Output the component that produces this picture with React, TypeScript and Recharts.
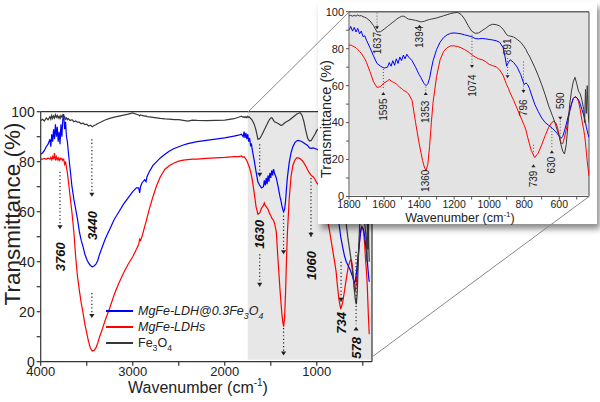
import React from 'react'
import { LineChart, Line, XAxis, YAxis, ReferenceArea, ReferenceLine, ReferenceDot, Legend } from 'recharts'

// FTIR spectra, transmittance (%) per wavenumber (cm-1)
const wavenumbers = [
  4000, 3980, 3960, 3940, 3920, 3900, 3890, 3880, 3870, 3860, 3850, 3840, 3830, 3820, 3810, 3800,
  3790, 3780, 3770, 3760, 3750, 3740, 3730, 3720, 3710, 3700, 3680, 3660, 3640, 3620, 3600, 3580,
  3560, 3540, 3520, 3500, 3480, 3460, 3440, 3420, 3400, 3380, 3360, 3340, 3300, 3250, 3200, 3150,
  3100, 3050, 3000, 2960, 2935, 2925, 2915, 2900, 2870, 2855, 2845, 2820, 2780, 2740, 2700, 2650,
  2600, 2550, 2500, 2450, 2400, 2350, 2300, 2200, 2100, 2000, 1900, 1850, 1820, 1800, 1790, 1780,
  1770, 1760, 1750, 1740, 1730, 1720, 1710, 1700, 1680, 1660, 1640, 1620, 1600, 1580, 1570, 1560,
  1550, 1540, 1530, 1520, 1510, 1500, 1490, 1480, 1470, 1460, 1440, 1420, 1400, 1390, 1380, 1370,
  1360, 1350, 1340, 1330, 1320, 1300, 1280, 1260, 1240, 1220, 1200, 1180, 1160, 1140, 1120, 1100,
  1080, 1060, 1040, 1020, 1000, 980, 960, 940, 920, 910, 900, 890, 880, 860, 840, 820,
  800, 790, 780, 770, 760, 740, 720, 700, 680, 660, 640, 630, 620, 610, 600, 590,
  580, 570, 560, 550, 540, 530, 520, 510, 500, 490, 480, 470, 460, 455, 450, 445,
  440, 435, 430,
]

// MgFe-LDH@0.3Fe3O4 (blue)
const hybridT = [
  83, 83.5, 84.5, 86, 87, 89, 86, 91, 88, 93, 89, 95, 90, 94, 88, 92,
  87, 95, 90, 97, 99, 93, 96, 90, 88, 84, 77, 70, 65, 61, 57, 52,
  48.5, 46, 43, 41, 39.5, 38.5, 38, 38.3, 39, 40.5, 43, 45, 49, 53, 57, 60,
  63, 65.5, 68, 69.5, 69.5, 67.5, 70, 71.5, 72.8, 72, 74, 76, 78.5, 80, 81.5, 83,
  84.3, 85.3, 86, 86.7, 87.2, 87.6, 88, 88.5, 89, 89.5, 90.2, 90.6, 91, 90, 92, 89.5,
  91.5, 89, 91, 88, 89.5, 86.5, 87, 84.5, 80.5, 76, 72, 70.5, 69.5, 70, 72.5, 70.5,
  73.5, 71, 74.5, 72, 75.5, 73.5, 76.5, 74.5, 77, 75.5, 73.5, 70, 66, 64.5, 62.5, 61,
  60, 61, 64, 69, 73.5, 79.5, 83.5, 86, 87.5, 88.3, 88.5, 88.3, 88, 87.5, 87, 86.5,
  85.5, 85.3, 85.5, 85.3, 85, 84.7, 84.3, 83.5, 80.5, 76, 70.5, 72.5, 74, 72.5, 70, 66,
  60.5, 61.5, 60.5, 58.5, 55.5, 50, 46, 42.5, 40, 38.5, 37, 36, 35, 34, 32.5, 31.5,
  32.5, 35.5, 39, 43, 46.5, 50, 53, 54, 53.5, 52.5, 50, 47, 44, 42, 40, 37.5,
  35.5, 33.5, 32,
]

// MgFe-LDHs (red)
const ldhT = [
  81, 81, 81.3, 81, 81.5, 81, 81.8, 80.8, 82, 81, 83.5, 80.5, 82, 80.8, 81.5, 80.5,
  81.5, 80.8, 81.3, 80.5, 81, 79, 80, 77.5, 75.5, 72.5, 66, 59.5, 52, 42, 34, 28.5,
  23.5, 19.5, 15, 11.5, 8, 5.5, 4.3, 4.5, 5.5, 7.5, 10, 12, 16.5, 21.5, 27, 31.5,
  35.5, 39, 42, 45, 47, 49, 48.5, 50, 54, 56, 57.5, 61, 66, 70.5, 74, 77,
  78.5, 79.5, 80.2, 80.6, 80.8, 81, 81, 81.3, 81.5, 81.7, 82, 82, 82.3, 81.8, 82, 81.5,
  81, 80.5, 79.5, 78.5, 77.5, 76, 74.5, 72.5, 67.5, 62, 59, 59.5, 61.5, 62.5, 63.5, 62.5,
  62, 61.5, 61, 60, 59, 58.5, 57.5, 57, 56.5, 55.5, 52, 40, 29, 24, 19.5, 16,
  14, 17.5, 27, 40, 51, 65, 74, 78.5, 80.5, 81.5, 81.5, 81.2, 80.5, 79.5, 78.3, 76.8,
  75.5, 74.5, 74, 73, 71.5, 70.8, 70.2, 68.5, 65.5, 63, 60.5, 58.5, 56, 52, 47.5, 43,
  38.5, 36, 32, 28.5, 25, 21, 23.5, 28, 33, 37.5, 40.3, 40.8, 40, 37.5, 33, 29,
  28.5, 32, 36, 41, 46, 50, 53, 54, 53.5, 51.5, 47, 41, 36, 33, 29, 24,
  19, 15, 11,
]

// Fe3O4 (dark grey)
const magnetiteT = [
  96.5, 97, 96.3, 97.5, 96.8, 98, 97, 98.5, 97.3, 98.3, 97.5, 98.8, 97.8, 98.5, 97.5, 98.2,
  97.3, 98.5, 97.8, 98.7, 97.5, 98, 97, 97.5, 96.8, 97.2, 96.5, 96.8, 96, 96.3, 95.8, 95.8,
  95.2, 95.5, 94.8, 95, 94.3, 94.6, 94, 94.5, 94.8, 95.3, 95.6, 96, 96.7, 97.3, 97.8, 98.2,
  98.6, 99, 99.5, 99, 98.7, 98.3, 98.7, 98.5, 98.2, 98.3, 98, 97.9, 97.7, 97.5, 97.3, 97.1,
  97, 96.8, 96.8, 96.5, 96.2, 96.6, 96.5, 96.4, 96.5, 96.6, 97.2, 97.8, 98.2, 97.8, 98, 97.6,
  98, 97.6, 98.2, 97.7, 97.9, 97.3, 97, 96.5, 95, 92.5, 89, 89.2, 90.5, 92, 92.8, 93.5,
  94.3, 95, 95.8, 96.5, 97, 97.5, 97.6, 97.2, 96.5, 96, 95.7, 95.3, 94.8, 94.5, 94.6, 94.8,
  95.2, 95.5, 95.8, 96, 96.2, 96.6, 97.2, 97.8, 98.4, 99, 99.4, 99.6, 98.5, 96, 92.5, 89.5,
  88.3, 88.5, 89.8, 91, 92.5, 93.2, 93, 92.3, 90.5, 89, 87.5, 87, 86.8, 86.3, 85, 83.5,
  81, 79.5, 77.5, 76, 74, 70, 65.5, 60.5, 55, 49, 44, 41.5, 38.5, 35.5, 32.5, 28,
  24.5, 23, 28, 39, 50, 57, 62, 64.5, 61, 57, 55.5, 52, 47, 40, 58, 45,
  60, 46, 40,
]

const mainXTicks = [4000, 3500, 3000, 2500, 2000, 1500, 1000, 500]
const yTicks = [0, 10, 20, 30, 40, 50, 60, 70, 80, 90, 100]
const insetXTicks = [1800, 1700, 1600, 1500, 1400, 1300, 1200, 1100, 1000, 900, 800, 700, 600, 500]

// peak markers on the full spectrum: dotted guides, arrow heads, labels
const mainGuides = [
  { x: 3790, from: 76, to: 53 },
  { x: 3444, from: 89, to: 66 },
  { x: 3444, from: 27.5, to: 17.5 },
  { x: 1620, from: 87, to: 74 },
  { x: 1620, from: 43, to: 30 },
  { x: 1361, from: 58.5, to: 43 },
  { x: 1361, from: 13.5, to: 2.5 },
  { x: 1063, from: 73.5, to: 50 },
  { x: 736, from: 40, to: 24 },
  { x: 573, from: 44, to: 15 },
]
const mainHeads = [
  { x: 3790, y: 53, dir: 'down' },
  { x: 3444, y: 66, dir: 'down' },
  { x: 3444, y: 17.5, dir: 'down' },
  { x: 1620, y: 74, dir: 'down' },
  { x: 1620, y: 30, dir: 'down' },
  { x: 1361, y: 43, dir: 'down' },
  { x: 1361, y: 2.5, dir: 'down' },
  { x: 1063, y: 50, dir: 'down' },
  { x: 736, y: 24, dir: 'down' },
  { x: 573, y: 14, dir: 'up' },
]
const mainLabels = [
  { x: 3790, y: 42, text: '3760' },
  { x: 3444, y: 54.5, text: '3440' },
  { x: 1620, y: 51, text: '1630' },
  { x: 1063, y: 38.5, text: '1060' },
  { x: 736, y: 15.5, text: '734' },
  { x: 573, y: 5.5, text: '578' },
]

// peak markers on the 1800-430 cm-1 inset
const insetGuides = [
  { x: 1640, from: 99.5, to: 91 },
  { x: 1604, from: 69, to: 58 },
  { x: 1362, from: 59.5, to: 57 },
  { x: 1098, from: 87.5, to: 70 },
  { x: 895, from: 75, to: 65 },
  { x: 804, from: 73, to: 57.5 },
  { x: 747, from: 28, to: 21.5 },
  { x: 642, from: 37, to: 26 },
  { x: 594, from: 41, to: 31 },
]
const insetHeads = [
  { x: 1640, y: 90.5, dir: 'down' },
  { x: 1398, y: 93, dir: 'up' },
  { x: 1604, y: 56.5, dir: 'up' },
  { x: 1362, y: 56.5, dir: 'up' },
  { x: 1098, y: 69.5, dir: 'down' },
  { x: 895, y: 64, dir: 'down' },
  { x: 804, y: 56, dir: 'down' },
  { x: 747, y: 17.5, dir: 'up' },
  { x: 642, y: 25, dir: 'up' },
  { x: 594, y: 41.5, dir: 'down' },
]
const insetLabels = [
  { x: 1640, y: 83, text: '1637' },
  { x: 1398, y: 86.4, text: '1394' },
  { x: 1604, y: 47, text: '1595' },
  { x: 1362, y: 45.8, text: '1353' },
  { x: 1362, y: 8.5, text: '1360' },
  { x: 1098, y: 60, text: '1074' },
  { x: 895, y: 81, text: '891' },
  { x: 804, y: 48, text: '796' },
  { x: 747, y: 9.5, text: '739' },
  { x: 642, y: 17, text: '630' },
  { x: 594, y: 51.8, text: '590' },
]

const rows = wavenumbers.map((wn, i) => ({
  wn,
  hybrid: hybridT[i],
  ldh: ldhT[i],
  magnetite: magnetiteT[i],
}))
const insetRows = rows.filter(r => r.wn <= 1800)

const series = [
  { key: 'ldh', color: '#ff0000' },
  { key: 'hybrid', color: '#0000ff' },
  { key: 'magnetite', color: '#383838' },
]

const FONT = '"Liberation Sans", Arial, Helvetica, sans-serif'
const AXIS = '#333'

const head = (dir: string, size: number, color: string) => (p: any) => {
  const { cx, cy } = p
  const h = size * 1.5
  const d = dir === 'down'
    ? `M${cx - size},${cy - h}L${cx + size},${cy - h}L${cx},${cy}Z`
    : `M${cx - size},${cy + h}L${cx + size},${cy + h}L${cx},${cy}Z`
  return <path d={d} fill={color} />
}

const vertText = (text: string, size: number, bold: boolean, color: string) => (p: any) => (
  <text
    x={p.cx}
    y={p.cy}
    transform={`rotate(-90 ${p.cx} ${p.cy})`}
    textAnchor="middle"
    dy="0.36em"
    fontSize={size}
    fontWeight={bold ? 'bold' : 'normal'}
    fontStyle={bold ? 'italic' : 'normal'}
    fontFamily={FONT}
    fill={color}
  >
    {text}
  </text>
)

const Fe3O4 = () => (
  <>
    Fe<sub style={{ fontSize: '0.7em', lineHeight: 0 }}>3</sub>O<sub style={{ fontSize: '0.7em', lineHeight: 0 }}>4</sub>
  </>
)

const renderLegend = () => {
  const items = [
    { color: '#0000ff', italic: true, label: <>MgFe-LDH@0.3<Fe3O4 /></> },
    { color: '#ff0000', italic: true, label: <>MgFe-LDHs</> },
    { color: '#383838', italic: false, label: <Fe3O4 /> },
  ]
  return (
    <div style={{ fontFamily: FONT, fontSize: 12.5, color: '#222' }}>
      {items.map((it, i) => (
        <div key={i} style={{ display: 'flex', alignItems: 'center', height: 16 }}>
          <span style={{ display: 'inline-block', width: 27, height: 1.5, background: it.color, marginRight: 5 }} />
          <span style={{ fontStyle: it.italic ? 'italic' : 'normal', lineHeight: '16px' }}>{it.label}</span>
        </div>
      ))}
    </div>
  )
}

export default function App() {
  return (
    <div style={{ position: 'absolute', left: 0, top: 0, width: 600, height: 402, overflow: 'hidden', background: '#fff' }}>
      <div style={{ position: 'absolute', left: 0, top: 0 }}>
        <LineChart width={600} height={402} data={rows} margin={{ top: 111.7, right: 228, bottom: 0.3, left: 0.7 }}>
          <ReferenceArea x1={1750} x2={400} y1={0.8} y2={100} fill="#e7e7e7" fillOpacity={1} stroke="none" />
          <XAxis
            dataKey="wn"
            type="number"
            domain={[400, 4000]}
            reversed
            ticks={mainXTicks}
            tickFormatter={(v: number) => (v % 1000 === 0 ? String(v) : '')}
            tick={{ fontSize: 13, fill: '#222', fontFamily: FONT }}
            tickSize={4}
            tickMargin={1}
            height={40}
            stroke={AXIS}
            strokeWidth={1.2}
            allowDataOverflow
          />
          <YAxis
            type="number"
            domain={[0, 100]}
            ticks={yTicks}
            tickFormatter={(v: number) => (v % 20 === 0 ? String(v) : '')}
            tick={{ fontSize: 14, fill: '#222', fontFamily: FONT }}
            tickSize={4}
            width={40}
            stroke={AXIS}
            strokeWidth={1.2}
          />
          <ReferenceLine y={100} stroke={AXIS} strokeWidth={1.2} />
          <ReferenceLine x={400} stroke={AXIS} strokeWidth={1.2} />
          {series.map(s => (
            <Line key={s.key} dataKey={s.key} stroke={s.color} strokeWidth={1.2} dot={false} isAnimationActive={false} />
          ))}
          {mainGuides.map((g, i) => (
            <ReferenceLine key={'mg' + i} segment={[{ x: g.x, y: g.from }, { x: g.x, y: g.to }]} stroke="#222" strokeWidth={1.2} strokeDasharray="1.2 2.4" />
          ))}
          {mainHeads.map((h, i) => (
            <ReferenceDot key={'mh' + i} x={h.x} y={h.y} r={0} shape={head(h.dir, 2.6, '#222')} />
          ))}
          {mainLabels.map((l, i) => (
            <ReferenceDot key={'ml' + i} x={l.x} y={l.y} r={0} shape={vertText(l.text, 13, true, '#111')} />
          ))}
          <Legend
            layout="horizontal"
            verticalAlign="middle"
            align="center"
            content={renderLegend}
            wrapperStyle={{ left: 106, top: 303, width: 220 }}
          />
        </LineChart>
      </div>

      {/* axis titles of the full spectrum */}
      <svg width={600} height={402} style={{ position: 'absolute', left: 0, top: 0, pointerEvents: 'none' }}>
        <text x={198} y={392.5} textAnchor="middle" fontSize={16} fontFamily={FONT} fill="#222">
          Wavenumber (cm<tspan dy={-7} fontSize={10}>-1</tspan><tspan dy={7}>)</tspan>
        </text>
        <text transform="translate(12 214) rotate(-90)" textAnchor="middle" dy="0.36em" fontSize={22.5} fontFamily={FONT} fill="#222">
          Transmittance (%)
        </text>
      </svg>

      <div
        style={{
          position: 'absolute',
          left: 318,
          top: 2,
          width: 279,
          height: 222,
          background: '#fff',
          boxShadow: '3px 5px 6px rgba(0,0,0,0.45)',
        }}
      >
        <LineChart width={279} height={222} data={insetRows} margin={{ top: 9.7, right: 8, bottom: 0.5, left: 0 }}>
          <ReferenceArea x1={1795} x2={430} y1={0.6} y2={100} fill="#e3e3e3" fillOpacity={1} stroke="none" />
          <XAxis
            dataKey="wn"
            type="number"
            domain={[430, 1800]}
            reversed
            ticks={insetXTicks}
            tickFormatter={(v: number) => (v % 200 === 0 ? String(v) : '')}
            tick={{ fontSize: 10.5, fill: '#222', fontFamily: FONT }}
            tickSize={3}
            tickMargin={1}
            height={27}
            stroke="#555"
            allowDataOverflow
          />
          <YAxis
            type="number"
            domain={[0, 100]}
            ticks={yTicks}
            tickFormatter={(v: number) => (v % 20 === 0 ? String(v) : '')}
            tick={{ fontSize: 11, fill: '#222', fontFamily: FONT }}
            tickSize={3}
            width={31}
            stroke="#555"
          />
          <ReferenceLine y={100} stroke="#666" strokeWidth={1.6} />
          <ReferenceLine x={430} stroke="#666" strokeWidth={1.2} />
          {series.map(s => (
            <Line key={s.key} dataKey={s.key} stroke={s.color} strokeWidth={1} dot={false} isAnimationActive={false} />
          ))}
          {insetGuides.map((g, i) => (
            <ReferenceLine key={'ig' + i} segment={[{ x: g.x, y: g.from }, { x: g.x, y: g.to }]} stroke="#555" strokeWidth={1} strokeDasharray="1 2" />
          ))}
          {insetHeads.map((h, i) => (
            <ReferenceDot key={'ih' + i} x={h.x} y={h.y} r={0} shape={head(h.dir, 2, '#222')} />
          ))}
          {insetLabels.map((l, i) => (
            <ReferenceDot key={'il' + i} x={l.x} y={l.y} r={0} shape={vertText(l.text, 10, false, '#222')} />
          ))}
        </LineChart>
        <svg width={279} height={226} style={{ position: 'absolute', left: 0, top: 0, pointerEvents: 'none' }}>
          <text x={142} y={220} textAnchor="middle" fontSize={12.5} fontFamily={FONT} fill="#222">
            Wavenumber (cm<tspan dy={-5} fontSize={8}>-1</tspan><tspan dy={5}>)</tspan>
          </text>
          <text transform="translate(8 117) rotate(-90)" textAnchor="middle" dy="0.36em" fontSize={14.5} fontFamily={FONT} fill="#222">
            Transmittance (%)
          </text>
        </svg>
      </div>

      {/* zoom connectors from the shaded region to the inset */}
      <svg width={600} height={402} style={{ position: 'absolute', left: 0, top: 0, pointerEvents: 'none' }}>
        <line x1={248} y1={112} x2={349} y2={12} stroke="#888" strokeWidth={1} />
        <line x1={372} y1={357} x2={589} y2={196.5} stroke="#888" strokeWidth={1} />
      </svg>
    </div>
  )
}
